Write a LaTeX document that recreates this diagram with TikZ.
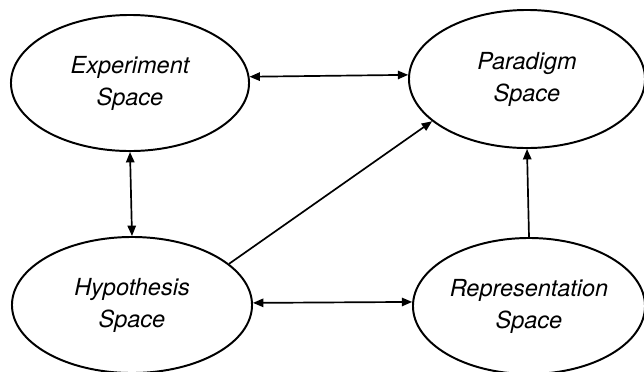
\documentclass[tikz,border=0pt]{standalone}
\usepackage{fontspec}
\setmainfont{TeX Gyre Heros}
\usetikzlibrary{shapes.geometric,arrows.meta}

\begin{document}
\begin{tikzpicture}[x=0.025cm,y=-0.025cm,
    space/.style={ellipse,draw,line width=1.4pt,inner sep=0,align=center,
        font=\spacefontsize\itshape},
    link/.style={line width=1.2pt,{Triangle[length=2.6mm,width=2.1mm]}-{Triangle[length=2.6mm,width=2.1mm]}},
    onelink/.style={line width=1.2pt,-{Triangle[length=2.6mm,width=2.1mm]}}]
    \providecommand{\spacefontsize}{\fontsize{16.7pt}{22.8pt}\selectfont}
    \useasboundingbox (0,0) rectangle (644,371);
    \node[space,minimum width=5.95cm,minimum height=3.4cm](exp) at (130,83) {Experiment\\Space};
    \node[space,minimum width=5.9cm,minimum height=3.45cm](par) at (527,79) {Paradigm\\Space};
    \node[space,minimum width=6cm,minimum height=3.4cm](hyp) at (132,305) {Hypothesis\\Space};
    \node[space,minimum width=5.8cm,minimum height=3.4cm](rep) at (529,306) {Representation\\Space};
    \draw[link] (exp.3.4) -- (par.178.5);
    \draw[link] (exp.south) -- (hyp.north);
    \draw[link] (hyp.1.5) -- (rep.178);
    \draw[onelink] (hyp.23) -- (par.204);
    \draw[onelink] (rep.north) -- (par.south);
\end{tikzpicture}
\end{document}
